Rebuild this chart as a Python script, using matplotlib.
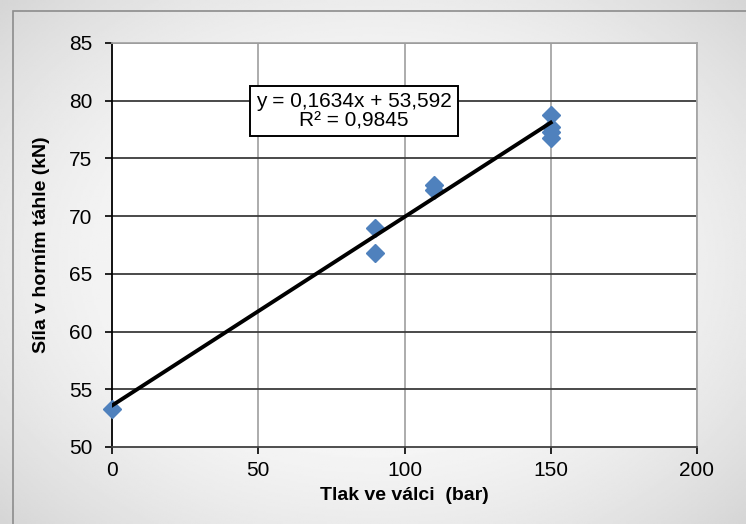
import numpy as np
import matplotlib
matplotlib.use("Agg")
import matplotlib.pyplot as plt
from matplotlib.patches import Rectangle

plt.rcParams['font.family'] = ['Liberation Sans', 'DejaVu Sans']

# data
tlak = [0, 90, 90, 110, 110, 150, 150, 150, 150]
sila = [53.3, 69.0, 66.8, 72.7, 72.3, 78.8, 77.7, 77.3, 76.8]
smernice = 0.1634
posun = 53.592
rovnice = "y = 0,1634x + 53,592\nR² = 0,9845"
x_ticks = [0, 50, 100, 150, 200]
y_ticks = [50, 55, 60, 65, 70, 75, 80, 85]

fig = plt.figure(figsize=(7.46, 5.24), dpi=100)

# light gray gradient background with frame
bg = fig.add_axes([0, 0, 1, 1])
yy, xx = np.mgrid[-1:1:300j, -1:1:400j]
r = np.sqrt((xx * 0.85) ** 2 + (yy * 0.8) ** 2)
bg.imshow(1 - 0.12 * np.clip(r, 0, 1.3) ** 2, cmap='gray', vmin=0, vmax=1,
          extent=[0, 1, 0, 1], aspect='auto', zorder=0)
bg.add_patch(Rectangle((13 / 746, -0.1), 1.2, 1 - 11 / 524 + 0.1, fill=False,
                       edgecolor='#8c8c8c', linewidth=1.2, zorder=1))
bg.set_xlim(0, 1)
bg.set_ylim(0, 1)
bg.axis('off')

ax = fig.add_axes([112 / 746, 1 - 447 / 524, 585 / 746, 404 / 524])
ax.set_facecolor('white')
ax.set_xlim(0, 200)
ax.set_ylim(50, 85)
ax.set_xticks(x_ticks)
ax.set_yticks(y_ticks)

for x in x_ticks[1:]:
    ax.axvline(x, color='#a6a6a6', linewidth=1.3, zorder=1)
for y in y_ticks[1:]:
    ax.axhline(y, color='#3c3c3c', linewidth=1.3, zorder=1)

ax.spines['left'].set_color('black')
ax.spines['bottom'].set_color('#404040')
ax.spines['top'].set_color('#a6a6a6')
ax.spines['right'].set_color('#a6a6a6')
for s in ax.spines.values():
    s.set_linewidth(1.3)
ax.tick_params(axis='both', direction='out', length=5, width=1.2, labelsize=15)
ax.tick_params(axis='y', pad=9)
ax.tick_params(axis='x', pad=5)

ax.plot(tlak, sila, linestyle='none', marker='D', markersize=9.5,
        color='#4f81bd', markeredgecolor='#4f81bd', zorder=3, clip_on=False)

xs = np.array([min(tlak), max(tlak)])
ax.plot(xs, smernice * xs + posun, color='black', linewidth=2.8, zorder=4)

ax.text(82.7, 79.1, rovnice, ha='center', va='center', fontsize=15,
        linespacing=1.05, zorder=5,
        bbox=dict(boxstyle='square,pad=0.28', facecolor='white',
                  edgecolor='black', linewidth=1.4))

ax.set_xlabel('Tlak ve válci  (bar)', fontsize=14, fontweight='bold', labelpad=5)
ax.set_ylabel('Síla v horním táhle (kN)', fontsize=14, fontweight='bold', labelpad=14)

fig.savefig('out.png', dpi=100)
